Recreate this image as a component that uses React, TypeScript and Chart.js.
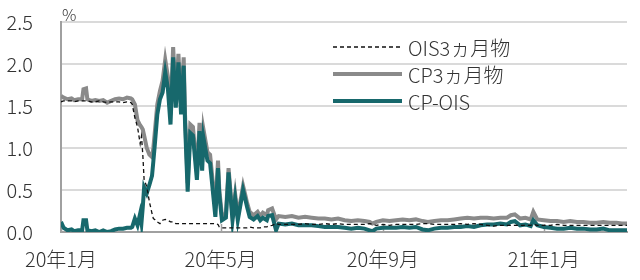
import { useEffect, useRef } from "react";
import { Chart, registerables } from "chart.js";

Chart.register(...registerables);

// x values: days since 2020-01-01
const tickDays = [0, 121, 244, 366];
const tickLabels = ["20年1月", "20年5月", "20年9月", "21年1月"];
const yTicks = [0, 0.5, 1.0, 1.5, 2.0, 2.5];

const seriesNames = ["OIS3ヵ月物", "CP3ヵ月物", "CP-OIS"];

const days = [
  0, 2, 5, 8, 10, 13, 16, 17, 19, 20, 23, 26, 29, 32, 35, 38, 41, 44, 47, 50, 53,
  54, 56, 58, 60, 61, 62, 63, 65, 67, 69, 70, 71, 73, 75, 77, 79, 81, 83, 85, 87,
  89, 91, 93, 94, 96, 98, 100, 103, 105, 107, 108, 111, 113, 117, 119, 120, 122,
  125, 127, 130, 132, 134, 138, 140, 141, 143, 146, 149, 151, 153, 156, 157, 160,
  163, 165, 170, 175, 180, 185, 190, 195, 200, 205, 210, 215, 220, 225, 230, 234,
  236, 239, 244, 249, 254, 259, 264, 269, 274, 278, 283, 288, 293, 298, 303, 308,
  313, 318, 323, 328, 333, 338, 341, 344, 348, 352, 356, 358, 361, 366, 371, 376,
  381, 386, 391, 396, 401, 406, 411, 416, 421, 425, 429,
];

const ois = [
  1.55, 1.56, 1.56, 1.56, 1.55, 1.56, 1.56, 1.56, 1.56, 1.56, 1.55, 1.55, 1.56, 1.55, 1.54, 1.55, 1.55, 1.55, 1.54, 1.55, 1.54,
  1.52, 1.36, 1.25, 1.05, 1.14, 0.92, 0.62, 0.54, 0.36, 0.22, 0.16, 0.15, 0.12, 0.1, 0.14, 0.15, 0.14, 0.12, 0.12, 0.1,
  0.1, 0.1, 0.1, 0.1, 0.1, 0.1, 0.1, 0.1, 0.1, 0.1, 0.1, 0.1, 0.1, 0.1, 0.09, 0.06, 0.05,
  0.05, 0.05, 0.05, 0.05, 0.05, 0.05, 0.05, 0.05, 0.06, 0.05, 0.05, 0.05, 0.06, 0.06, 0.07, 0.08,
  0.1, 0.09, 0.09, 0.09, 0.09, 0.1, 0.09, 0.09, 0.1, 0.09, 0.1, 0.09, 0.09, 0.09, 0.09, 0.1,
  0.09, 0.08, 0.09, 0.08, 0.09, 0.09, 0.09, 0.09, 0.1, 0.1, 0.09, 0.09, 0.09, 0.09, 0.1, 0.09,
  0.1, 0.09, 0.08, 0.07, 0.08, 0.08, 0.08, 0.08, 0.08, 0.08, 0.08, 0.09, 0.08, 0.08, 0.08, 0.09,
  0.08, 0.08, 0.08, 0.08, 0.08, 0.08, 0.08, 0.08, 0.08, 0.08, 0.08,
];

const cp = [
  1.62, 1.6, 1.58, 1.59, 1.57, 1.58, 1.58, 1.7, 1.71, 1.58, 1.56, 1.57, 1.56, 1.57, 1.54, 1.56, 1.58, 1.59, 1.58, 1.6, 1.59,
  1.58, 1.52, 1.33, 1.27, 1.25, 1.22, 1.15, 1.0, 0.92, 0.89, 1.0, 1.17, 1.52, 1.68, 1.8, 2.05, 1.85, 1.4, 2.2, 1.58,
  2.12, 1.5, 2.08, 1.4, 0.58, 1.28, 1.25, 0.72, 1.3, 0.83, 1.22, 0.95, 0.92, 0.28, 0.85, 0.5, 0.19,
  0.22, 0.76, 0.19, 0.45, 0.19, 0.55, 0.42, 0.35, 0.24, 0.2, 0.24, 0.19, 0.23, 0.2, 0.26, 0.28,
  0.15, 0.19, 0.18, 0.19, 0.17, 0.18, 0.17, 0.16, 0.16, 0.15, 0.16, 0.14, 0.13, 0.14, 0.13, 0.12,
  0.1, 0.12, 0.14, 0.13, 0.14, 0.15, 0.14, 0.15, 0.13, 0.12, 0.13, 0.14, 0.14, 0.15, 0.16, 0.17,
  0.16, 0.17, 0.17, 0.16, 0.17, 0.17, 0.2, 0.21, 0.16, 0.17, 0.15, 0.24, 0.15, 0.14, 0.13, 0.13,
  0.12, 0.13, 0.12, 0.12, 0.11, 0.11, 0.12, 0.11, 0.11, 0.1, 0.1,
];

const spread = [
  0.12, 0.05, 0.02, 0.03, 0.01, 0.02, 0.02, 0.14, 0.14, 0.02, 0.01, 0.02, 0.0, 0.02, 0.0, 0.01, 0.03, 0.04, 0.04, 0.05, 0.05,
  0.06, 0.16, 0.08, 0.22, 0.11, 0.3, 0.53, 0.46, 0.56, 0.67, 0.84, 1.02, 1.4, 1.58, 1.66, 1.9, 1.71, 1.28, 2.08, 1.48,
  2.02, 1.4, 1.98, 1.3, 0.48, 1.18, 1.15, 0.62, 1.2, 0.73, 1.12, 0.85, 0.82, 0.18, 0.76, 0.44, 0.14,
  0.17, 0.71, 0.14, 0.4, 0.14, 0.5, 0.37, 0.3, 0.18, 0.15, 0.19, 0.14, 0.17, 0.14, 0.19, 0.2,
  0.02, 0.1, 0.09, 0.1, 0.08, 0.08, 0.08, 0.07, 0.06, 0.06, 0.06, 0.05, 0.04, 0.05, 0.04, 0.02,
  0.01, 0.04, 0.05, 0.05, 0.05, 0.06, 0.05, 0.06, 0.03, 0.02, 0.04, 0.05, 0.05, 0.06, 0.06, 0.07,
  0.06, 0.08, 0.09, 0.09, 0.1, 0.09, 0.12, 0.13, 0.08, 0.09, 0.07, 0.14, 0.08, 0.06, 0.05, 0.04,
  0.04, 0.05, 0.04, 0.04, 0.03, 0.03, 0.04, 0.02, 0.02, 0.02, 0.02,
];

const TEXT = "#333333";
const FONT = '"Noto Sans CJK JP", "Noto Sans", sans-serif';
const GREY = "#8a8a8a";
const TEAL = "#17686c";
const DASH = "#111111";

export default function App() {
  const ref = useRef<HTMLCanvasElement | null>(null);

  useEffect(() => {
    if (!ref.current) return;
    const toPts = (arr: number[]) => days.map((d, i) => ({ x: d, y: arr[i] }));

    const decor = {
      id: "decor",
      beforeDatasetsDraw(chart: any) {
        const ctx = chart.ctx;
        const xs = chart.scales.x;
        const bottom = chart.chartArea.bottom;
        ctx.save();
        ctx.strokeStyle = "#a0a0a0";
        ctx.lineWidth = 1.5;
        tickDays.forEach((v) => {
          const px = Math.round(xs.getPixelForValue(v)) + 0.5;
          ctx.beginPath();
          ctx.moveTo(px, bottom);
          ctx.lineTo(px, bottom - 8);
          ctx.stroke();
        });
        ctx.restore();
      },
      afterDraw(chart: any) {
        const ctx = chart.ctx;
        const area = chart.chartArea;
        ctx.save();
        ctx.fillStyle = TEXT;
        ctx.font = `300 16px ${FONT}`;
        ctx.textBaseline = "middle";
        ctx.textAlign = "left";
        ctx.fillText("%", area.left + 1, 15);
        const rows = [
          { color: DASH, width: 1.3, dash: [4, 3], y: 47 },
          { color: GREY, width: 4, dash: [], y: 74 },
          { color: TEAL, width: 4, dash: [], y: 101 },
        ];
        rows.forEach((r, i) => {
          ctx.beginPath();
          ctx.setLineDash(r.dash);
          ctx.strokeStyle = r.color;
          ctx.lineWidth = r.width;
          ctx.moveTo(333, r.y);
          ctx.lineTo(402, r.y);
          ctx.stroke();
          ctx.setLineDash([]);
          ctx.fillStyle = TEXT;
          ctx.font = `300 20px ${FONT}`;
          ctx.textBaseline = "middle";
          ctx.fillText(seriesNames[i], 408, r.y + 1);
        });
        ctx.restore();
      },
    };

    const chart = new Chart(ref.current, {
      type: "line",
      data: {
        datasets: [
          {
            label: seriesNames[0],
            data: toPts(ois),
            borderColor: DASH,
            borderWidth: 1.3,
            borderDash: [4, 3],
            pointRadius: 0,
            tension: 0,
            order: 0,
          },
          {
            label: seriesNames[2],
            data: toPts(spread),
            borderColor: TEAL,
            borderWidth: 4,
            pointRadius: 0,
            tension: 0,
            order: 1,
          },
          {
            label: seriesNames[1],
            data: toPts(cp),
            borderColor: GREY,
            borderWidth: 4,
            pointRadius: 0,
            tension: 0,
            order: 2,
          },
        ],
      },
      options: {
        responsive: false,
        animation: false,
        events: [],
        layout: { padding: { top: 22, right: 13, left: 0, bottom: 0 } },
        plugins: {
          legend: { display: false },
          tooltip: { enabled: false },
        },
        scales: {
          x: {
            type: "linear",
            min: 0,
            max: 429,
            afterBuildTicks: (scale: any) => {
              scale.ticks = tickDays.map((v) => ({ value: v }));
            },
            afterFit: (scale: any) => {
              scale.height = 48;
              scale.paddingLeft = 0;
              scale.paddingRight = 0;
            },
            ticks: {
              autoSkip: false,
              maxRotation: 0,
              padding: 15,
              color: TEXT,
              font: { family: FONT, size: 20, weight: "300" },
              callback: (v: any) => {
                const i = tickDays.indexOf(Number(v));
                return i >= 0 ? tickLabels[i] : "";
              },
            },
            grid: { display: false, drawTicks: false },
            border: { display: true, color: "#a0a0a0", width: 2 },
          },
          y: {
            min: 0,
            max: 2.5,
            afterBuildTicks: (scale: any) => {
              scale.ticks = yTicks.map((v) => ({ value: v }));
            },
            afterFit: (scale: any) => {
              scale.width = 61;
              scale.paddingTop = 0;
              scale.paddingBottom = 0;
            },
            ticks: {
              padding: 28,
              color: TEXT,
              font: { family: FONT, size: 20, weight: "300" },
              callback: (v: any) => Number(v).toFixed(1),
            },
            grid: { color: "#dadada", lineWidth: 2, drawTicks: false },
            border: { display: true, color: "#a0a0a0", width: 2 },
          },
        },
      },
      plugins: [decor],
    });
    return () => chart.destroy();
  }, []);

  return (
    <div style={{ position: "fixed", left: 0, top: 0, width: 640, height: 280, background: "#fff" }}>
      <canvas ref={ref} width={640} height={280} style={{ width: 640, height: 280, display: "block" }} />
    </div>
  );
}
